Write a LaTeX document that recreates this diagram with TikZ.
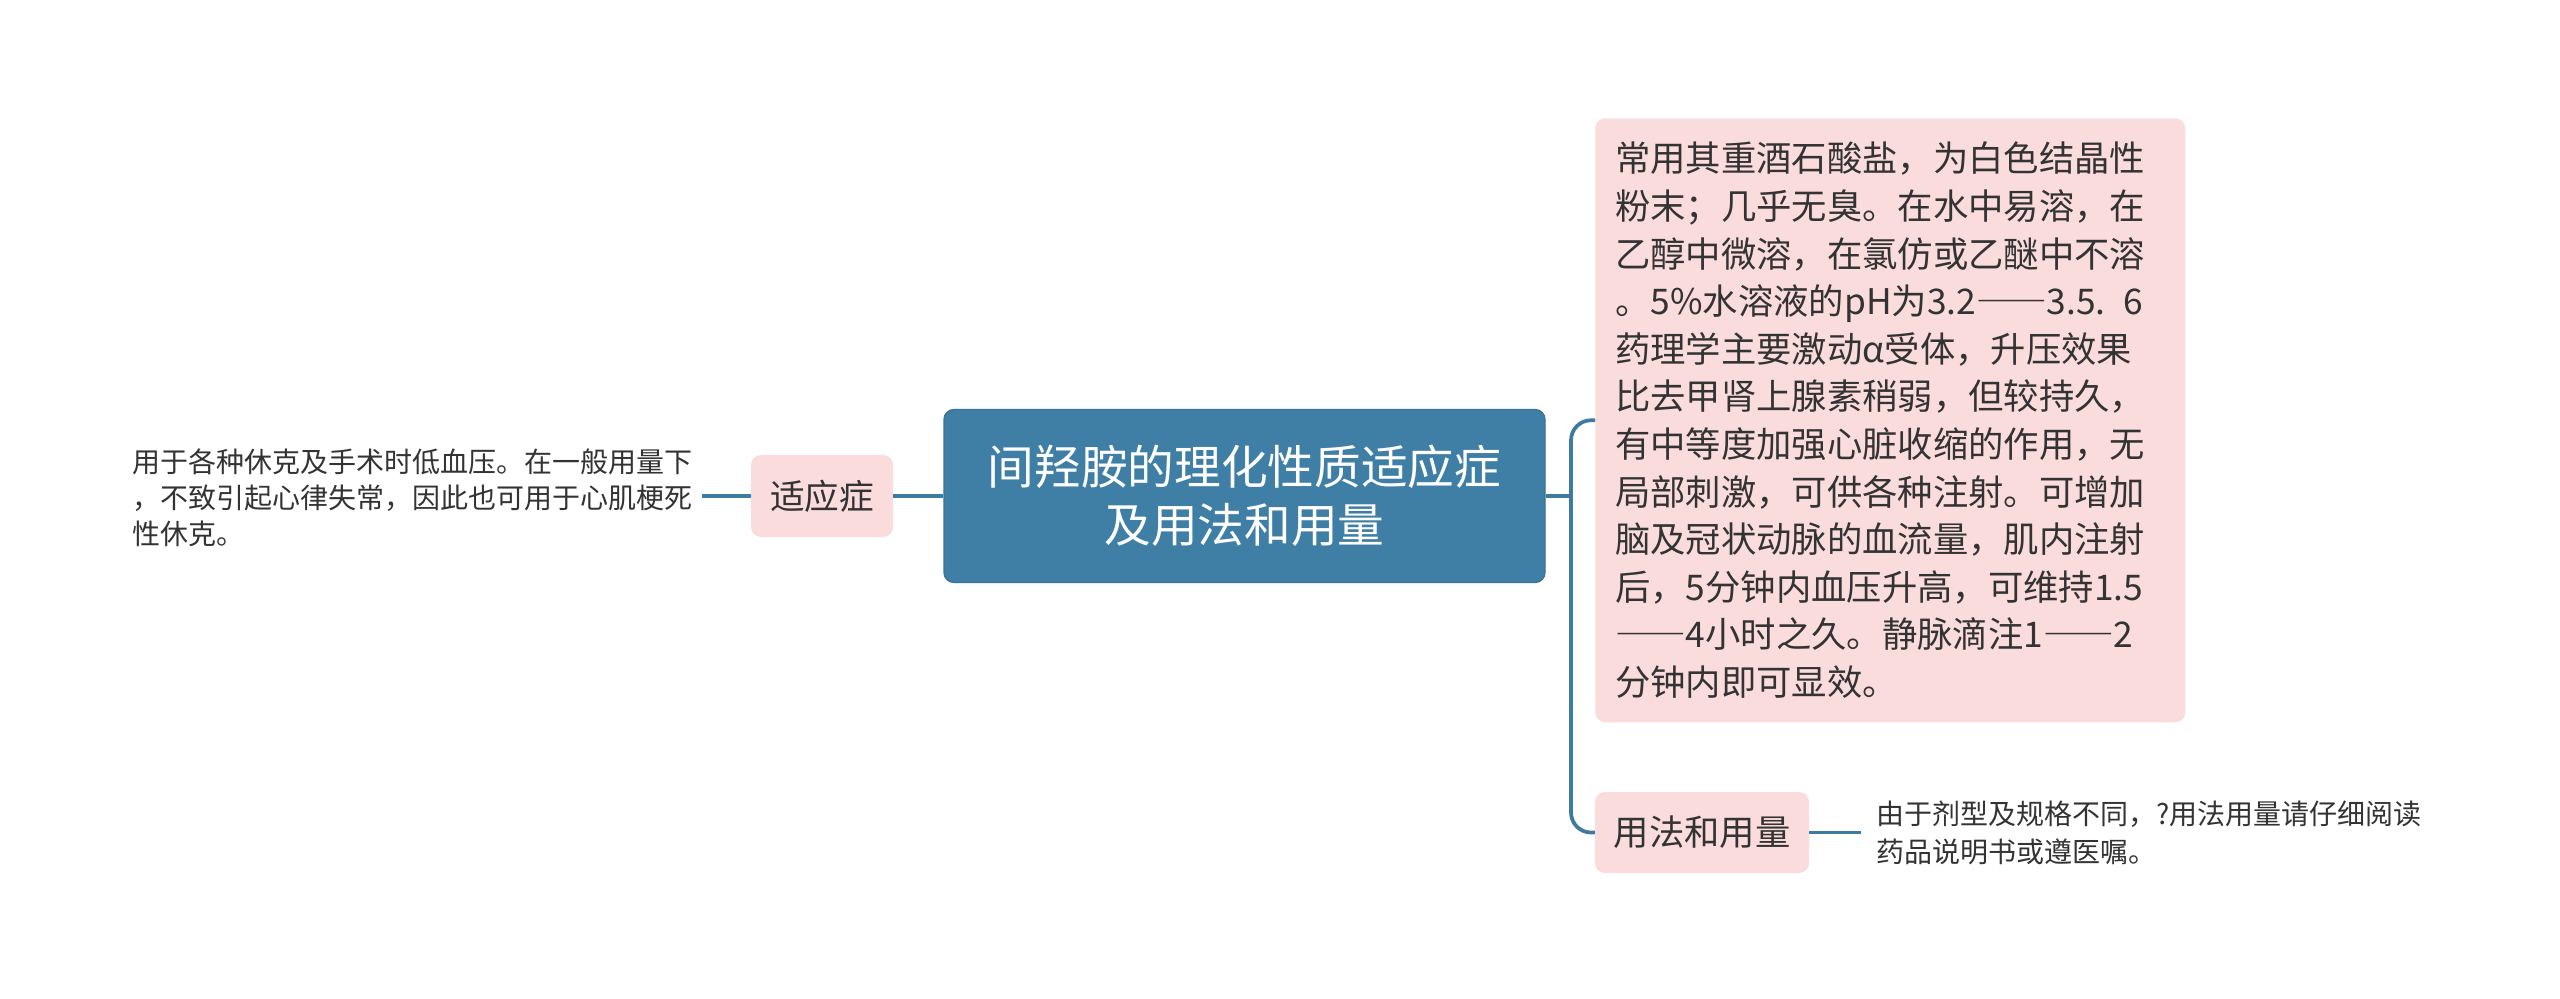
\documentclass[tikz,border=0pt]{standalone}
\usepackage{fontspec}
\setmainfont{Noto Sans CJK SC}
\newfontfamily\fwfont[RawFeature=+fwid]{Noto Sans CJK SC}
\newcommand\dashpair{{\fwfont ——}}
\usetikzlibrary{calc}
\definecolor{mainblue}{HTML}{3F7FA6}
\definecolor{mainborder}{HTML}{3A7498}
\definecolor{lineblue}{HTML}{3E7BA0}
\definecolor{pinkfill}{HTML}{FADCDC}
\definecolor{txt}{HTML}{333333}
\tikzset{
  rootbox/.style={fill=mainblue, draw=mainborder, line width=1pt, rounded corners=7.5pt, text=white, align=center, inner sep=0pt},
  pinkbox/.style={fill=pinkfill, rounded corners=7.5pt, text=txt, inner sep=0pt},
  leaftext/.style={text=txt, align=left, inner sep=4pt, font=\fontsize{21}{27}\selectfont},
  conn/.style={draw=lineblue, line width=2.8pt},
}
\begin{document}
\begin{tikzpicture}[x=0.75pt,y=-0.75pt]
\useasboundingbox[fill=white] (0,0) rectangle (2560,999);

\node[rootbox, minimum width=601*0.75pt, minimum height=173*0.75pt, font=\fontsize{35}{43.5}\selectfont] (root) at (1244.5,496) {间羟胺的理化性质适应症\\及用法和用量};

\node[pinkbox, minimum width=142*0.75pt, minimum height=82*0.75pt, font=\fontsize{26}{32}\selectfont] (syz) at (822,496) {适应症};

\node[leaftext, anchor=west] (lt) at (127,498) {用于各种休克及手术时低血压。在一般用量下\\，不致引起心律失常，因此也可用于心肌梗死\\性休克。};

\node[pinkbox, anchor=north west, minimum width=590*0.75pt, minimum height=604*0.75pt, text width=550*0.75pt, inner xsep=20*0.75pt, align=left, font=\fontsize{26.5}{35.7}\selectfont] (big) at (1595,118) {常用其重酒石酸盐，为白色结晶性\\粉末；几乎无臭。在水中易溶，在\\乙醇中微溶，在氯仿或乙醚中不溶\\。5\%水溶液的pH为3.2\dashpair3.5. 6\\药理学主要激动α受体，升压效果\\比去甲肾上腺素稍弱，但较持久，\\有中等度加强心脏收缩的作用，无\\局部刺激，可供各种注射。可增加\\脑及冠状动脉的血流量，肌内注射\\后，5分钟内血压升高，可维持1.5\\\dashpair4小时之久。静脉滴注1\dashpair2\\分钟内即可显效。};

\node[pinkbox, minimum width=214*0.75pt, minimum height=81*0.75pt, font=\fontsize{26.5}{32}\selectfont] (yf) at (1702,832.5) {用法和用量};

\node[leaftext, anchor=west, font=\fontsize{21}{28.5}\selectfont] (rt) at (1871,832.5) {由于剂型及规格不同，?用法用量请仔细阅读\\药品说明书或遵医嘱。};

\coordinate (fork) at (1571,496);
\draw[conn] (root.west) -- (syz.east);
\draw[conn] (syz.west) -- ++(-49,0) coordinate (ltend);
\draw[conn] (root.east) -- (fork);
\draw[conn, rounded corners=15pt] (fork) |- (big.west);
\draw[conn, rounded corners=15pt] (fork) |- (yf.west);
\draw[conn] (yf.east) -- ++(52,0) coordinate (rtend);
\end{tikzpicture}
\end{document}
